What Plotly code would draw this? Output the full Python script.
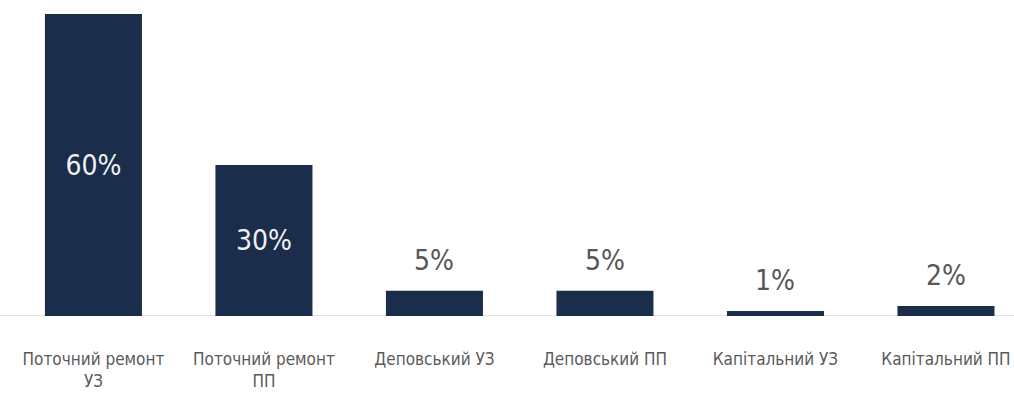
import plotly.graph_objects as go

categories = ["Поточний ремонт<br>УЗ", "Поточний ремонт<br>ПП", "Деповський УЗ",
              "Деповський ПП", "Капітальний УЗ", "Капітальний ПП"]
values = [60, 30, 5, 5, 1, 2]
labels = ["60%", "30%", "5%", "5%", "1%", "2%"]
inside = [True, True, False, False, False, False]

FONT = "DejaVu Sans Condensed"
BAR = "#1a2d4a"

fig = go.Figure()
fig.add_trace(go.Bar(
    x=list(range(len(categories))), y=values,
    marker=dict(color=BAR, line=dict(width=0)),
    text=[l if i else "" for l, i in zip(labels, inside)],
    textposition="inside", insidetextanchor="middle",
    textfont=dict(family=FONT, size=28, color="#eef1f5"),
    hoverinfo="skip",
))
for i, (v, l, ins) in enumerate(zip(values, labels, inside)):
    if not ins:
        fig.add_annotation(x=i, y=v, text=l, showarrow=False, yanchor="bottom",
                           yshift=12, font=dict(family=FONT, size=28, color="#575757"))

fig.update_layout(
    width=1014, height=394, margin=dict(l=0, r=0, t=14, b=78),
    paper_bgcolor="white", plot_bgcolor="white", bargap=0.431,
    showlegend=False,
)
fig.update_xaxes(tickmode="array", tickvals=list(range(len(categories))), ticktext=categories,
                 range=[-0.548, 5.399], showgrid=False, showline=False, zeroline=False,
                 tickangle=0, automargin=False, ticklabeloverflow="allow",
                 tickfont=dict(family=FONT, size=17, color="#5a5a5a"), ticks="", ticklabelstandoff=31)
fig.update_yaxes(range=[0, 60], visible=False, showgrid=False, zeroline=False)
fig.add_shape(type="line", xref="paper", yref="y", x0=0, x1=1, y0=0, y1=0,
              line=dict(color="#d9d9d9", width=1.5), layer="below")

fig.write_html("out.html")
